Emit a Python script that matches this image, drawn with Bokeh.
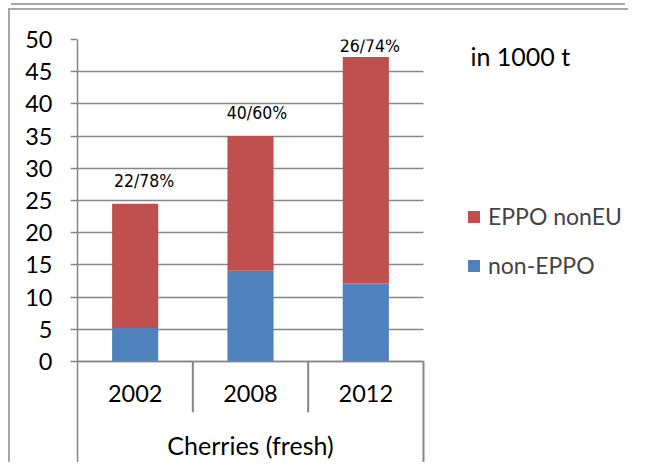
from bokeh.plotting import figure
from bokeh.models import (Range1d, FixedTicker, Legend, LegendItem,
                          ColumnDataSource, Label)
from bokeh.core.properties import value
from bokeh.embed import file_html
from bokeh.resources import INLINE

# ---- data ----
years = ["2002", "2008", "2012"]
group_label = "Cherries (fresh)"
non_eppo = [5.2, 14.1, 12.1]
eppo_noneu = [19.3, 20.9, 35.2]
share_labels = ["22/78%", "40/60%", "26/74%"]
y_ticks = [0, 5, 10, 15, 20, 25, 30, 35, 40, 45, 50]
series_names = ["non-EPPO", "EPPO nonEU"]
unit_note = "in 1000 t"

# ---- style ----
BLUE = "#4F81BD"
RED = "#C0504D"
GREY = "#868686"
FONT = "Lato"
NARROW = "DejaVu Sans Condensed"

n = len(years)
xs = [i + 0.5 for i in range(n)]           # category centres
totals = [a + b for a, b in zip(non_eppo, eppo_noneu)]
src = ColumnDataSource(dict(x=xs, non=non_eppo, eppo=eppo_noneu,
                            total=totals, lab=share_labels,
                            dx=[9, 6.5, 4], dy=[-23, -23, -11]))

p = figure(x_range=Range1d(0, 4.795), y_range=Range1d(-16.0, 50),
           width=620, height=454, output_backend="svg", toolbar_location=None,
           min_border_left=67, min_border_right=0, min_border_top=29,
           min_border_bottom=0)
p.styles = {"border-left": "2px solid #A6A6A6", "border-top": "2px solid #A6A6A6",
            "margin-left": "8px", "margin-top": "8px",
            "box-shadow": "0 -3px 0 0 #FFFFFF, 0 -8px 0 -3px #A6A6A6"}
p.outline_line_color = None
p.background_fill_color = "white"
p.border_fill_color = "white"

rs = p.vbar_stack(["non", "eppo"], x="x", width=0.4, color=[BLUE, RED],
                  line_color=None, source=src)

# y axis
p.yaxis.ticker = FixedTicker(ticks=y_ticks)
p.yaxis.minor_tick_line_color = None
p.yaxis.major_tick_in = 0
p.yaxis.major_tick_out = 7
p.yaxis.major_tick_line_color = GREY
p.yaxis.major_tick_line_width = 1.5
p.yaxis.axis_line_color = GREY
p.yaxis.axis_line_width = 1.5
p.yaxis.major_label_text_font = FONT
p.yaxis.major_label_text_font_size = "23.5px"
p.yaxis.major_label_text_color = "black"
p.yaxis.major_label_standoff = 18
p.xgrid.grid_line_color = None

grid = p.ygrid[0]
grid.ticker = FixedTicker(ticks=y_ticks)
grid.grid_line_color = GREY
grid.grid_line_width = 1.5
if "cross_bounds" in grid.properties():
    grid.cross_bounds = (0, n)
else:
    grid.grid_line_color = None
    p.segment(x0=[0] * len(y_ticks), y0=y_ticks, x1=[n] * len(y_ticks), y1=y_ticks,
              line_color=GREY, line_width=1.5)

# x axis at zero
p.xaxis.fixed_location = 0
p.xaxis.bounds = (0, n)
p.xaxis.ticker = FixedTicker(ticks=xs)
p.xaxis.major_label_overrides = {x: y for x, y in zip(xs, years)}
p.xaxis.axis_line_color = GREY
p.xaxis.axis_line_width = 1.5
p.xaxis.major_tick_line_color = None
p.xaxis.minor_tick_line_color = None
p.xaxis.major_label_text_font = FONT
p.xaxis.major_label_text_font_size = "23.5px"
p.xaxis.major_label_text_color = "black"
p.xaxis.major_label_standoff = 18

# category separators
sep_x = list(range(1, n + 1))
sep_y1 = [-7.9] * (n - 1) + [-16.0]
p.segment(x0=sep_x, y0=[0] * len(sep_x), x1=sep_x, y1=sep_y1,
          line_color=GREY, line_width=2)

# group label
p.text(x=[n / 2], y=[-13.0], text=[group_label],
       text_font=value(FONT), text_font_size="25px", text_color="black",
       text_align="center", text_baseline="middle")

# share labels
p.text(x="x", y="total", text="lab", x_offset="dx", y_offset="dy",
       source=src, text_font=value(NARROW), text_font_size="17.5px",
       text_color="black", text_align="center", text_baseline="middle")

# unit note
p.add_layout(Label(x=393, y=409, x_units="screen", y_units="screen",
                   text=unit_note, text_font=FONT, text_font_size="25px",
                   text_color="black", text_baseline="middle"))

legend = Legend(items=[LegendItem(label=series_names[1], renderers=[rs[1]]),
                       LegendItem(label=series_names[0], renderers=[rs[0]])],
                location=(389, 185), orientation="vertical",
                glyph_width=15, glyph_height=15, label_standoff=7,
                label_height=26, spacing=21, padding=0, margin=0,
                label_text_font=FONT, label_text_font_size="23px",
                border_line_color=None, background_fill_alpha=0)
p.add_layout(legend, "center")

open("out.html", "w").write(file_html(p, INLINE))
